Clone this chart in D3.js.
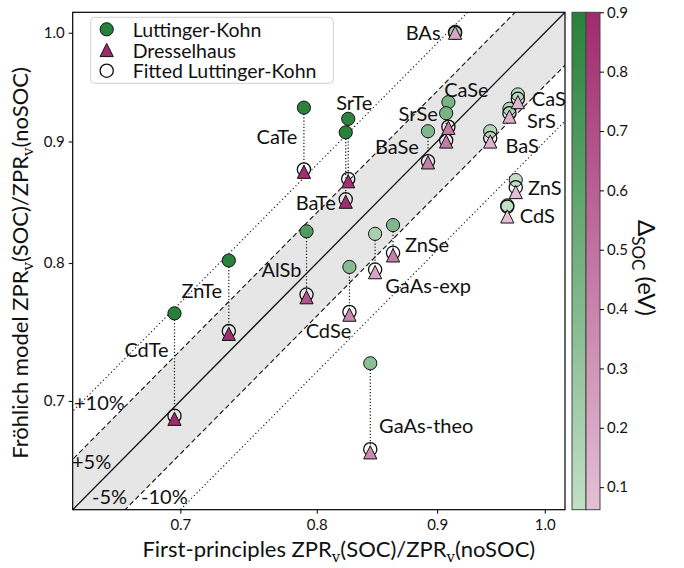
<!DOCTYPE html>
<html>
<head>
<meta charset="utf-8">
<script src="https://cdn.jsdelivr.net/npm/d3@7"></script>
<style>
  body { margin: 0; background: #fff; }
  text { font-family: Lato, "DejaVu Sans", sans-serif; fill: #111; }
</style>
</head>
<body>
<div id="chart"></div>
<script>
// values
var materials = ["CdTe","ZnTe","CaTe","SrTe","BaTe","AlSb","CdSe","GaAs-exp","ZnSe","GaAs-theo",
                 "BAs","CaSe","SrSe","BaSe","CaS","SrS","BaS","ZnS","CdS"]
var zprFirstPrinciples = [0.696,0.734,0.790,0.825,0.823,0.792,0.826,0.847,0.862,0.843,
                          0.916,0.910,0.908,0.892,0.974,0.966,0.948,0.972,0.964]
var zprLK = [0.762,0.802,0.930,0.920,0.908,0.825,0.797,0.823,0.830,0.726,
             1.001,0.935,0.925,0.909,0.942,0.929,0.909,0.867,0.846]
var zprDresselhaus = [0.688,0.747,0.874,0.866,0.849,0.774,0.761,0.793,0.806,0.666,
                      1.000,0.912,0.900,0.882,0.935,0.922,0.900,0.857,0.837]
var zprFittedLK = [0.690,0.749,0.876,0.868,0.851,0.776,0.763,0.795,0.808,0.668,
                   1.000,0.913,0.901,0.883,0.938,0.925,0.903,0.861,0.845]
var deltaSOC = [0.90,0.89,0.88,0.87,0.89,0.67,0.38,0.20,0.42,0.36,
                0.21,0.45,0.45,0.42,0.13,0.15,0.14,0.07,0.062]
var xTicks = [0.7, 0.8, 0.9, 1.0]
var yTicks = [0.7, 0.8, 0.9, 1.0]
var cbarTicks = [0.1,0.2,0.3,0.4,0.5,0.6,0.7,0.8,0.9]
var bandLines = [{k: 1.10, dash: "1.2,2.6", label: "+10%"}, {k: 1.05, dash: "5,3", label: "+5%"},
                 {k: 1.00, dash: null, label: null},
                 {k: 0.95, dash: "5,3", label: "-5%"}, {k: 0.90, dash: "1.2,2.6", label: "-10%"}]

// label placement, px offset from the Luttinger-Kohn marker
var labelOffset = {
  "CdTe": [-28, 36], "ZnTe": [-27, 29], "CaTe": [-27, 28], "SrTe": [6, -17], "BaTe": [-30, 70],
  "AlSb": [-25, 38], "CdSe": [-21, 63], "GaAs-exp": [53, 51], "ZnSe": [34, 19], "GaAs-theo": [56, 62],
  "BAs": [-32, 0], "CaSe": [18, -13], "SrSe": [-28, 0], "BaSe": [-31, 15], "CaS": [31, 4],
  "SrS": [32, 11], "BaS": [32, 14], "ZnS": [29, 7], "CdS": [30, 10]
}

var W = 684, H = 568
var PLOT = {LEFT: 72.7, RIGHT: 565, TOP: 12.3, BOTTOM: 509.7}
var CBAR = {LEFT: 572, MID: 586, RIGHT: 600}

var svg = d3.select("#chart").append("svg").attr("width", W).attr("height", H)

var x = d3.scaleLog().domain([0.63, 1.02]).range([PLOT.LEFT, PLOT.RIGHT])
var y = d3.scaleLog().domain([0.63, 1.02]).range([PLOT.BOTTOM, PLOT.TOP])

var vmin = d3.min(deltaSOC), vmax = d3.max(deltaSOC)
var greenScale = d3.scaleLinear().domain([vmin, vmax]).range(["#c1dfc6", "#27813a"]).interpolate(d3.interpolateRgb)
var pinkScale = d3.scaleLinear().domain([vmin, vmax]).range(["#e3c0d6", "#a02a6e"]).interpolate(d3.interpolateRgb)

svg.append("clipPath").attr("id", "clip")
  .append("rect").attr("x", PLOT.LEFT).attr("y", PLOT.TOP)
  .attr("width", PLOT.RIGHT - PLOT.LEFT).attr("height", PLOT.BOTTOM - PLOT.TOP)

var g = svg.append("g").attr("clip-path", "url(#clip)")

// shaded +-5% band
var x0 = 0.6, x1 = 1.1
g.append("path")
  .attr("d", "M" + [x(x0), y(x0 * 1.05)] + "L" + [x(x1), y(x1 * 1.05)] +
             "L" + [x(x1), y(x1 * 0.95)] + "L" + [x(x0), y(x0 * 0.95)] + "Z")
  .style("fill", "#e6e6e6")

bandLines.forEach(function(b){
  g.append("line")
    .attr("x1", x(x0)).attr("y1", y(x0 * b.k))
    .attr("x2", x(x1)).attr("y2", y(x1 * b.k))
    .style("stroke", "#111")
    .style("stroke-width", b.dash ? 1.1 : 1.3)
    .style("stroke-dasharray", b.dash)
})

// percent labels
var pctLabels = [["+10%", 74, 410], ["+5%", 72, 469], ["-5%", 92, 504], ["-10%", 141, 504]]
pctLabels.forEach(function(p){
  svg.append("text").attr("x", p[1]).attr("y", p[2]).text(p[0]).style("font-size", "20px")
})

// dotted connectors
var pts = materials.map(function(m, i){
  return {name: m, fp: zprFirstPrinciples[i], lk: zprLK[i], d: zprDresselhaus[i], fit: zprFittedLK[i], delta: deltaSOC[i]}
})

g.selectAll(".conn").data(pts).enter().append("line")
  .attr("x1", function(d){ return x(d.fp) }).attr("y1", function(d){ return y(d.lk) })
  .attr("x2", function(d){ return x(d.fp) }).attr("y2", function(d){ return y(d.d) })
  .style("stroke", "#111").style("stroke-width", 1.2).style("stroke-dasharray", "1.2,2")

var R = 6.6
var triPath = "M0," + (-R) + "L" + (-R) + "," + R + "L" + R + "," + R + "Z"

g.selectAll(".lk").data(pts).enter().append("circle")
  .attr("cx", function(d){ return x(d.fp) }).attr("cy", function(d){ return y(d.lk) })
  .attr("r", R)
  .style("fill", function(d){ return greenScale(d.delta) })
  .style("stroke", "#111").style("stroke-width", 1)

g.selectAll(".fit").data(pts).enter().append("circle")
  .attr("cx", function(d){ return x(d.fp) }).attr("cy", function(d){ return y(d.fit) })
  .attr("r", R)
  .style("fill", "none")
  .style("stroke", "#111").style("stroke-width", 1.3)

g.selectAll(".dr").data(pts).enter().append("path")
  .attr("d", triPath)
  .attr("transform", function(d){ return "translate(" + x(d.fp) + "," + y(d.d) + ")" })
  .style("fill", function(d){ return pinkScale(d.delta) })
  .style("stroke", "#111").style("stroke-width", 1)

// material labels
svg.selectAll(".lab").data(pts).enter().append("text")
  .attr("x", function(d){ return x(d.fp) + labelOffset[d.name][0] })
  .attr("y", function(d){ return y(d.lk) + labelOffset[d.name][1] })
  .attr("text-anchor", "middle")
  .attr("dominant-baseline", "central")
  .style("font-size", "20px")
  .text(function(d){ return d.name })

// frame and axes
svg.append("rect").attr("x", PLOT.LEFT).attr("y", PLOT.TOP)
  .attr("width", PLOT.RIGHT - PLOT.LEFT).attr("height", PLOT.BOTTOM - PLOT.TOP)
  .style("fill", "none").style("stroke", "#000").style("stroke-width", 1.2)

var xAxis = svg.append("g").attr("transform", "translate(0," + PLOT.BOTTOM + ")")
  .call(d3.axisBottom(x).tickValues(xTicks).tickFormat(d3.format(".1f")).tickSizeOuter(0).tickSize(4).tickPadding(6))
var yAxis = svg.append("g").attr("transform", "translate(" + PLOT.LEFT + ",0)")
  .call(d3.axisLeft(y).tickValues(yTicks).tickFormat(d3.format(".1f")).tickSizeOuter(0).tickSize(4).tickPadding(4))
;[xAxis, yAxis].forEach(function(a){
  a.select(".domain").remove()
  a.selectAll("text").style("font-size", "15px").style("font-family", "Lato, sans-serif").attr("fill", "#111")
  a.selectAll("line").attr("stroke", "#000")
})

// axis titles with subscript v
function zprTitle(sel, prefix){
  sel.append("tspan").text(prefix + "ZPR")
  sel.append("tspan").text("v").attr("dy", 5).style("font-size", "15px").style("font-family", "DejaVu Serif, serif")
  sel.append("tspan").text("(SOC)/ZPR").attr("dy", -5)
  sel.append("tspan").text("v").attr("dy", 5).style("font-size", "15px").style("font-family", "DejaVu Serif, serif")
  sel.append("tspan").text("(noSOC)").attr("dy", -5)
}
var xt = svg.append("text").attr("x", (PLOT.LEFT + PLOT.RIGHT) / 2 + 20).attr("y", 557)
  .attr("text-anchor", "middle").style("font-size", "22px")
zprTitle(xt, "First-principles ")
var yt = svg.append("text").attr("transform", "translate(28,263) rotate(-90)")
  .attr("text-anchor", "middle").style("font-size", "22px")
zprTitle(yt, "Fröhlich model ")

// legend
var leg = svg.append("g")
leg.append("rect").attr("x", 90.7).attr("y", 17.3).attr("width", 242.6).attr("height", 66).attr("rx", 4)
  .style("fill", "#fff").style("fill-opacity", 0.85).style("stroke", "#d0d0d0").style("stroke-width", 1)
var legendItems = ["Luttinger-Kohn", "Dresselhaus", "Fitted Luttinger-Kohn"]
legendItems.forEach(function(t, i){
  var cy = 29.3 + i * 20.7
  if (i == 0) leg.append("circle").attr("cx", 106.7).attr("cy", cy).attr("r", R)
    .style("fill", greenScale(vmax)).style("stroke", "#111")
  if (i == 1) leg.append("path").attr("d", triPath).attr("transform", "translate(106.7," + cy + ")")
    .style("fill", pinkScale(vmax)).style("stroke", "#111")
  if (i == 2) leg.append("circle").attr("cx", 106.7).attr("cy", cy).attr("r", R)
    .style("fill", "none").style("stroke", "#111").style("stroke-width", 1.3)
  leg.append("text").attr("x", 132.7).attr("y", cy).attr("dominant-baseline", "central")
    .style("font-size", "19.5px").text(t)
})

// colorbar
var cb = d3.scaleLinear().domain([vmin, vmax]).range([PLOT.BOTTOM, PLOT.TOP])
var defs = svg.append("defs")
function grad(id, scale){
  var lg = defs.append("linearGradient").attr("id", id).attr("x1", 0).attr("y1", 1).attr("x2", 0).attr("y2", 0)
  d3.range(0, 1.01, 0.1).forEach(function(t){
    lg.append("stop").attr("offset", t).attr("stop-color", scale(vmin + t * (vmax - vmin)))
  })
}
grad("gGreen", greenScale)
grad("gPink", pinkScale)
svg.append("rect").attr("x", CBAR.LEFT).attr("y", PLOT.TOP).attr("width", CBAR.MID - CBAR.LEFT)
  .attr("height", PLOT.BOTTOM - PLOT.TOP).style("fill", "url(#gGreen)").style("stroke", "#444")
svg.append("rect").attr("x", CBAR.MID).attr("y", PLOT.TOP).attr("width", CBAR.RIGHT - CBAR.MID)
  .attr("height", PLOT.BOTTOM - PLOT.TOP).style("fill", "url(#gPink)").style("stroke", "#444")
var cAxis = svg.append("g").attr("transform", "translate(" + CBAR.RIGHT + ",0)")
  .call(d3.axisRight(cb).tickValues(cbarTicks).tickFormat(d3.format(".1f")).tickSize(4).tickPadding(3))
cAxis.select(".domain").remove()
cAxis.selectAll("text").style("font-size", "15px").style("font-family", "Lato, sans-serif").attr("fill", "#111")

var ct = svg.append("text").attr("transform", "translate(638,268) rotate(90)")
  .attr("text-anchor", "middle").style("font-size", "24px")
ct.append("tspan").text("Δ")
ct.append("tspan").text("SOC").attr("dy", 6).style("font-size", "17px")
ct.append("tspan").text(" (eV)").attr("dy", -6)
</script>
</body>
</html>
